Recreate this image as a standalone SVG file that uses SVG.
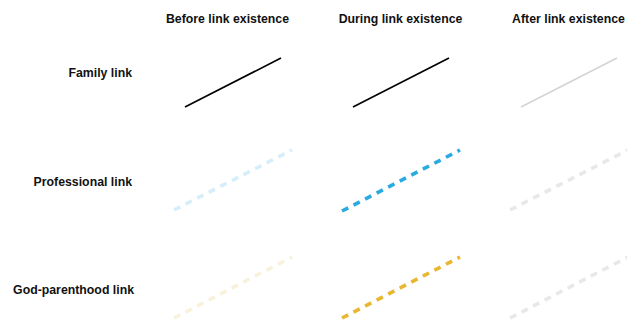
<svg xmlns="http://www.w3.org/2000/svg" width="627" height="320" viewBox="0 0 627 320">
<style>
text{font-family:"Liberation Sans",Arial,sans-serif;font-weight:bold;font-size:12.3px;fill:#111}
.h{text-anchor:middle}
.r{text-anchor:end}
.solid{stroke-width:1.6;fill:none}
.dash{stroke-width:3.6;fill:none;stroke-dasharray:7 6}
</style>
<rect width="627" height="320" fill="#fff"/>
<g id="headers">
<text class="h" x="227.5" y="23">Before link existence</text>
<text class="h" x="400.5" y="23">During link existence</text>
<text class="h" x="568.5" y="23">After link existence</text>
</g>
<g id="row-labels">
<text class="r" x="132" y="77">Family link</text>
<text class="r" x="132" y="186">Professional link</text>
<text class="r" x="134" y="294">God-parenthood link</text>
</g>
<g id="connectors">
<line class="solid" x1="185" y1="107" x2="281" y2="58" stroke="#000"/>
<line class="solid" x1="353" y1="107" x2="449" y2="58" stroke="#000"/>
<line class="solid" x1="521" y1="107" x2="617" y2="58" stroke="#d4d4d4"/>
<line class="dash" x1="174" y1="210" x2="292" y2="150" stroke="#d6eef9"/>
<line class="dash" x1="342" y1="211" x2="460" y2="150" stroke="#29abe2"/>
<line class="dash" x1="510" y1="210" x2="628" y2="150" stroke="#e8e8e8"/>
<line class="dash" x1="174" y1="318" x2="292" y2="257" stroke="#f8f2dc"/>
<line class="dash" x1="342" y1="318" x2="460" y2="257" stroke="#e9b630"/>
<line class="dash" x1="510" y1="318" x2="628" y2="257" stroke="#e8e8e8"/>
</g>
</svg>
